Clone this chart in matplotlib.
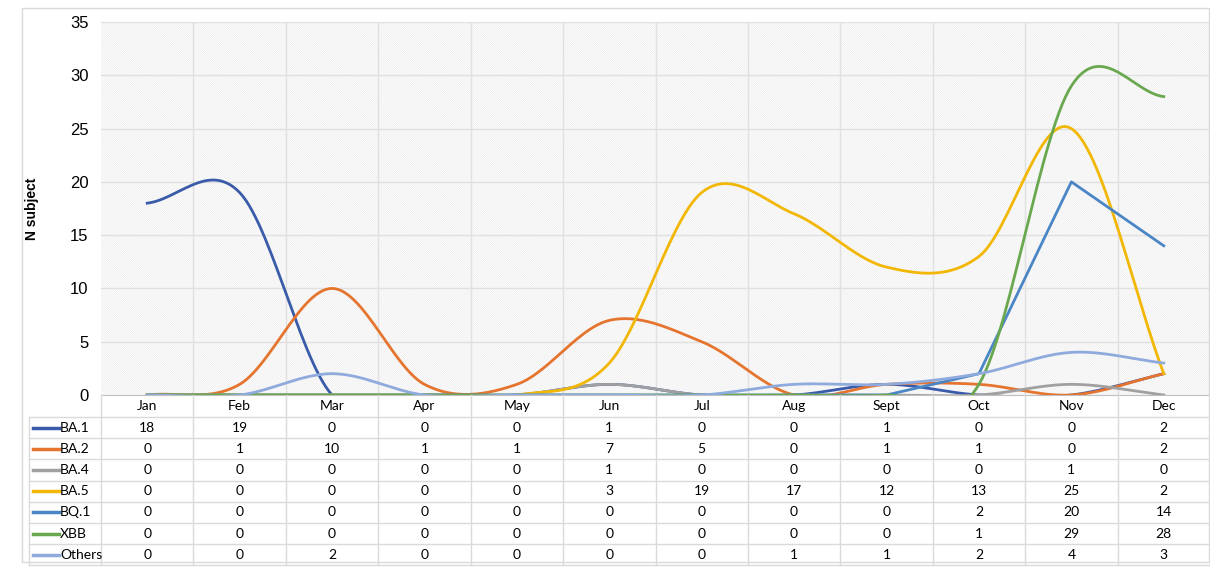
import matplotlib.pyplot as plt
from matplotlib.patches import Rectangle
import numpy as np

meses = ['Jan', 'Feb', 'Mar', 'Apr', 'May', 'Jun', 'Jul', 'Aug', 'Sept', 'Oct', 'Nov', 'Dec']
ba1    = [18, 19, 0, 0, 0, 1, 0, 0, 1, 0, 0, 2]
ba2    = [0, 1, 10, 1, 1, 7, 5, 0, 1, 1, 0, 2]
ba4    = [0, 0, 0, 0, 0, 1, 0, 0, 0, 0, 1, 0]
ba5    = [0, 0, 0, 0, 0, 3, 19, 17, 12, 13, 25, 2]
bq1    = [0, 0, 0, 0, 0, 0, 0, 0, 0, 2, 20, 14]
xbb    = [0, 0, 0, 0, 0, 0, 0, 0, 0, 1, 29, 28]
others = [0, 0, 2, 0, 0, 0, 0, 1, 1, 2, 4, 3]

variantes = ['BA.1', 'BA.2', 'BA.4', 'BA.5', 'BQ.1', 'XBB', 'Others']
series    = [ba1, ba2, ba4, ba5, bq1, xbb, others]
colores   = ['#3a5ba9', '#e5742f', '#a0a0a0', '#f2b705', '#4a86c5', '#6aa84f', '#8faadc']
suave     = [True, True, True, True, False, True, True]   # BQ.1 va recto

plt.rcParams['font.family'] = ['Liberation Sans', 'DejaVu Sans']
plt.rcParams['hatch.linewidth'] = 0.5
plt.rcParams['hatch.color'] = '#ececec'

W, H = 1210., 567.
fig = plt.figure(figsize=(W/100, H/100), dpi=100)

def px(x0, y0, x1, y1):
    # caja en pixeles (origen arriba a la izquierda) -> coordenadas de figura
    return [x0/W, 1 - y1/H, (x1-x0)/W, (y1-y0)/H]

# borde exterior
fig.patches.append(Rectangle((22/W, 1-562/H), (1209-22)/W, (562-8)/H, transform=fig.transFigure,
                             fill=False, edgecolor='#d9d9d9', linewidth=1))

# curva suavizada tipo Excel (Catmull-Rom)
def suavizar(y, n=30):
    x = np.arange(len(y), dtype=float)
    y = np.asarray(y, dtype=float)
    xs, ys = [], []
    for i in range(len(y)-1):
        p0 = max(i-1, 0); p3 = min(i+2, len(y)-1)
        m1 = (y[i+1]-y[p0]) / (x[i+1]-x[p0])
        m2 = (y[p3]-y[i]) / (x[p3]-x[i])
        t = np.linspace(0, 1, n)
        h00 = 2*t**3 - 3*t**2 + 1; h10 = t**3 - 2*t**2 + t
        h01 = -2*t**3 + 3*t**2;    h11 = t**3 - t**2
        xs.append(x[i] + t)
        ys.append(h00*y[i] + h10*m1 + h01*y[i+1] + h11*m2)
    return np.concatenate(xs), np.concatenate(ys)

# ejes del grafico
ax = fig.add_axes(px(101, 22, 1210, 395))
ax.add_patch(Rectangle((0, 0), 1, 1, transform=ax.transAxes, facecolor='white',
                       hatch='\\'*16, edgecolor='#ececec', linewidth=0, zorder=0))
ax.set_xlim(-0.5, 11.5)
ax.set_ylim(0, 35)
ax.set_yticks(np.arange(0, 36, 5))
ax.set_xticks([])
for yy in np.arange(5, 36, 5):
    ax.axhline(yy, color='#e0e0e0', linewidth=1, zorder=1)
for xx in np.arange(0.5, 11.5, 1):
    ax.axvline(xx, color='#e0e0e0', linewidth=1, zorder=1)
for s in ['top', 'right', 'left']:
    ax.spines[s].set_visible(False)
ax.spines['bottom'].set_color('#bfbfbf')
ax.tick_params(axis='y', length=0, labelsize=12, pad=9)
ax.set_ylabel('N subject', fontsize=10, fontweight='bold')
ax.yaxis.set_label_coords(-0.056, 0.5)

for nombre, y, c, s in zip(variantes, series, colores, suave):
    if s:
        xs, ys = suavizar(y)
    else:
        xs, ys = np.arange(len(y)), y
    ax.plot(xs, ys, color=c, linewidth=2, zorder=3, clip_on=True)

# tabla de datos
ancho = (1210 - 101) / 12.
izq = -0.5 - (101 - 29) / ancho
tab = fig.add_axes(px(29, 395, 1210, 567))
tab.set_xlim(izq, 11.5)
tab.set_ylim(172, 0)
tab.axis('off')

fuente_tabla = ['Lato', 'DejaVu Sans']
filas = [0, 22] + [22 + 21.2*(k+1) for k in range(7)]
for k, m in enumerate(meses):
    tab.text(k, 11, m, ha='center', va='center', fontsize=10, family=fuente_tabla)
for yy in filas[1:]:
    tab.plot([izq, 11.5], [yy, yy], color='#dadada', linewidth=1, clip_on=False)
tab.plot([izq, izq], [filas[1], filas[-1]], color='#dadada', linewidth=1, clip_on=False)
for xx in np.arange(-0.5, 11.6, 1):
    tab.plot([xx, xx], [0, filas[-1]], color='#dadada', linewidth=1, clip_on=False)

x_clave = izq + 4/ancho
for r, (nombre, y, c) in enumerate(zip(variantes, series, colores)):
    yc = (filas[r+1] + filas[r+2]) / 2
    tab.plot([x_clave, x_clave + 26/ancho], [yc, yc], color=c, linewidth=2.5, clip_on=False)
    tab.text(x_clave + 27/ancho, yc, nombre, ha='left', va='center', fontsize=10, family=fuente_tabla)
    for k, v in enumerate(y):
        tab.text(k, yc, str(v), ha='center', va='center', fontsize=10, family=fuente_tabla)

fig.savefig('out.png', dpi=100)
